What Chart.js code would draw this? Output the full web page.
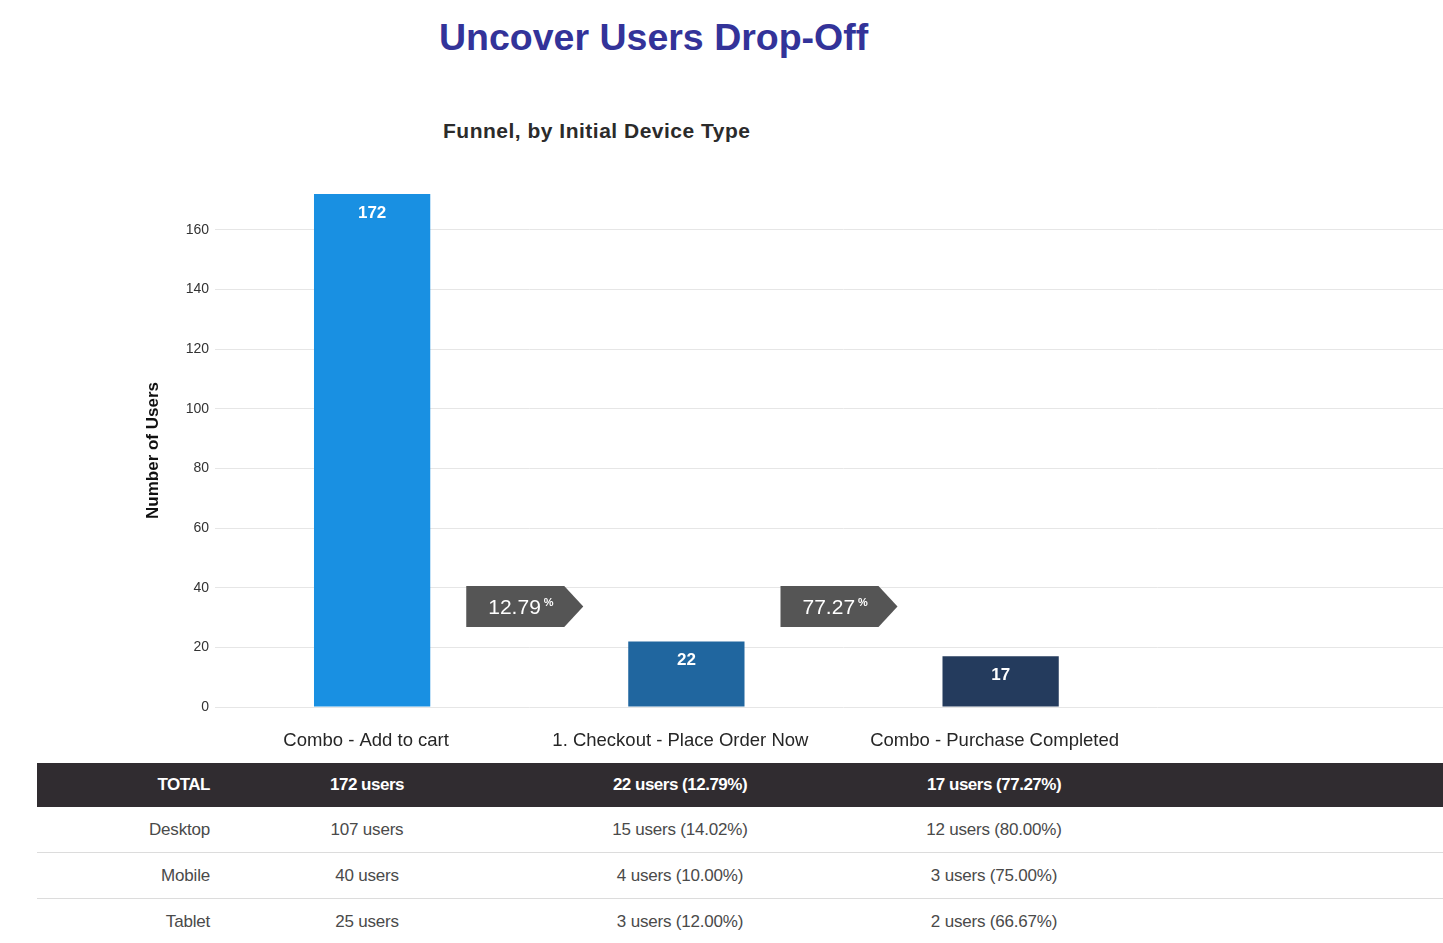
<!DOCTYPE html>
<html>
<head>
<meta charset="utf-8">
<script src="https://cdn.jsdelivr.net/npm/chart.js@4/dist/chart.umd.min.js"></script>
<style>
  html, body { margin: 0; padding: 0; background: #fff; }
  body { width: 1443px; height: 943px; overflow: hidden; position: relative; font-family: "Liberation Sans", Arial, sans-serif; }
  #mainTitle { position: absolute; left: 439px; top: 15px; font-size: 37.5px; line-height: 44px; font-weight: bold; color: #333399; white-space: nowrap; }
  #chartTitle { position: absolute; left: 443px; top: 119px; font-size: 21px; line-height: 24px; font-weight: bold; color: #2b2b2b; letter-spacing: 0.5px; white-space: nowrap; }
  #wrap { position: absolute; left: 0; top: 150px; width: 1475px; height: 612px; }
  #funnelTable { position: absolute; left: 37px; top: 763px; width: 1406px; border-collapse: collapse; table-layout: fixed; font-size: 17px; }
  #funnelTable td { padding: 0; text-align: center; color: #4a4a4a; letter-spacing: -0.2px; height: 45px; border-bottom: 1px solid #dcdcdc; white-space: nowrap; }
  #funnelTable td:first-child { text-align: right; padding-right: 12px; }
  #funnelTable tr.total td { background: #302c30; color: #fff; font-weight: bold; letter-spacing: -0.5px; height: 44px; border-bottom: none; }
</style>
</head>
<body>
<div id="mainTitle">Uncover Users Drop-Off</div>
<div id="chartTitle">Funnel, by Initial Device Type</div>
<div id="wrap"><canvas id="funnel" width="1475" height="612"></canvas></div>
<table id="funnelTable">
  <colgroup>
    <col style="width:185px"><col style="width:290px"><col style="width:336px"><col style="width:292px"><col>
  </colgroup>
  <tbody id="tableBody"></tbody>
</table>
<script>
// funnel steps and users per step
const steps = ['Combo - Add to cart', '1. Checkout - Place Order Now', 'Combo - Purchase Completed'];
const totalUsers = [172, 22, 17];
const barColors = ['#1990e2', '#20669f', '#243b5d'];

// breakdown by initial device type
const devices = ['Desktop', 'Mobile', 'Tablet'];
const desktopUsers = [107, 15, 12];
const mobileUsers = [40, 4, 3];
const tabletUsers = [25, 3, 2];

const yTicks = [0, 20, 40, 60, 80, 100, 120, 140, 160];

function pct(arr, i) {
  return (arr[i] / arr[i - 1] * 100).toFixed(2);
}
function cellText(arr, i) {
  return i === 0 ? arr[i] + ' users' : arr[i] + ' users (' + pct(arr, i) + '%)';
}

// table below the chart
const rows = [['TOTAL', totalUsers], [devices[0], desktopUsers], [devices[1], mobileUsers], [devices[2], tabletUsers]];
const tbody = document.getElementById('tableBody');
rows.forEach(([name, arr], r) => {
  const tr = document.createElement('tr');
  if (r === 0) tr.className = 'total';
  let html = '<td>' + name + '</td>';
  arr.forEach((v, i) => { html += '<td>' + cellText(arr, i) + '</td>'; });
  html += '<td></td>';
  tr.innerHTML = html;
  tbody.appendChild(tr);
});

// value labels + drop-off tags
const funnelLabels = {
  id: 'funnelLabels',
  afterDatasetsDraw(chart) {
    const ctx = chart.ctx;
    const meta = chart.getDatasetMeta(0);
    const area = chart.chartArea;
    ctx.save();
    meta.data.forEach((bar, i) => {
      if (totalUsers[i] == null) return;
      ctx.fillStyle = '#fff';
      ctx.font = 'bold 17px "Liberation Sans", Arial, sans-serif';
      ctx.textAlign = 'center';
      ctx.textBaseline = 'middle';
      ctx.fillText(totalUsers[i], bar.x, bar.y + 19);

      if (i < totalUsers.length - 1) {
        const left = bar.x + bar.width / 2 + 36;
        const top = area.bottom - 121;
        const w = 98, tip = 19, h = 41;
        ctx.fillStyle = '#555555';
        ctx.beginPath();
        ctx.moveTo(left, top);
        ctx.lineTo(left + w, top);
        ctx.lineTo(left + w + tip, top + h / 2);
        ctx.lineTo(left + w, top + h);
        ctx.lineTo(left, top + h);
        ctx.closePath();
        ctx.fill();
        const txt = pct(totalUsers, i + 1);
        ctx.fillStyle = '#fff';
        ctx.textAlign = 'left';
        ctx.textBaseline = 'alphabetic';
        ctx.font = '21px "Liberation Sans", Arial, sans-serif';
        ctx.fillText(txt, left + 22, top + 28);
        const tw = ctx.measureText(txt).width;
        ctx.font = 'bold 11px "Liberation Sans", Arial, sans-serif';
        ctx.fillText('%', left + 25 + tw, top + 20);
      }
    });
    ctx.restore();
  }
};

new Chart(document.getElementById('funnel'), {
  type: 'bar',
  data: {
    labels: [...steps, ''],
    datasets: [{
      data: [...totalUsers, null],
      backgroundColor: barColors,
      barPercentage: 0.37,
      categoryPercentage: 1
    }]
  },
  options: {
    responsive: false,
    animation: false,
    devicePixelRatio: 1,
    layout: { padding: { left: 139, top: 44, right: 3, bottom: 0 } },
    plugins: { legend: { display: false }, title: { display: false }, tooltip: { enabled: false } },
    scales: {
      x: {
        grid: { display: false },
        border: { display: false },
        ticks: {
          color: '#262626',
          font: { family: '"Liberation Sans", Arial, sans-serif', size: 18.5 },
          padding: 15,
          labelOffset: -6,
          maxRotation: 0,
          autoSkip: false
        },
        afterFit(scale) { scale.height = 55; }
      },
      y: {
        min: 0,
        max: 172,
        afterBuildTicks(scale) { scale.ticks = yTicks.map(v => ({ value: v })); },
        grid: { color: '#e6e6e6', drawTicks: false },
        border: { display: false },
        ticks: {
          color: '#333',
          font: { family: '"Liberation Sans", Arial, sans-serif', size: 14 },
          padding: 6
        },
        title: {
          display: true,
          text: 'Number of Users',
          color: '#111',
          font: { family: '"Liberation Sans", Arial, sans-serif', size: 17, weight: 'bold' },
          padding: { top: 4, bottom: 4 }
        },
        afterFit(scale) { scale.width = 76; }
      }
    }
  },
  plugins: [funnelLabels]
});
</script>
</body>
</html>
